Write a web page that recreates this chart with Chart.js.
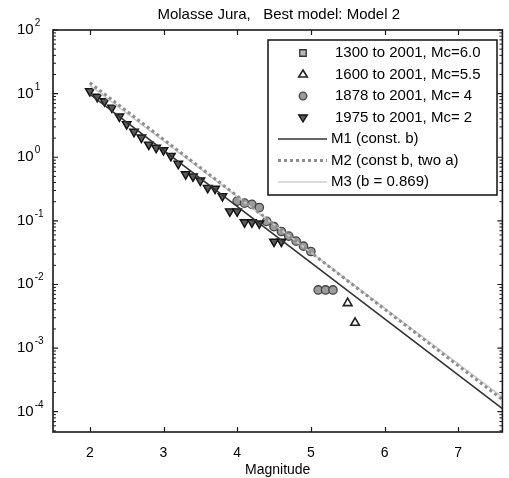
<!DOCTYPE html>
<html><head><meta charset="utf-8">
<script src="https://cdn.jsdelivr.net/npm/chart.js@4.4.1/dist/chart.umd.min.js"></script>
<style>html,body{margin:0;padding:0;background:#fff;}#wrap{width:509px;height:478px;position:relative;}canvas{display:block;}</style>
</head><body><div id="wrap"><canvas id="c" width="509" height="478" style="width:509px;height:478px"></canvas></div>
<script>
// ---- data ----
const titleText = 'Molasse Jura,   Best model: Model 2';
const xAxisTitle = 'Magnitude';
const xTicks = [2, 3, 4, 5, 6, 7];
const yTickExponents = [-4, -3, -2, -1, 0, 1, 2];
const yMinorMultipliers = [2, 3, 4, 5, 6, 7, 8, 9];
const legendLabels = ['1300 to 2001, Mc=6.0', '1600 to 2001, Mc=5.5', '1878 to 2001, Mc= 4', '1975 to 2001, Mc= 2',
  'M1 (const. b)', 'M2 (const b, two a)', 'M3 (b = 0.869)'];

const mag1300 = [];
const rate1300 = [];
const mag1600 = [5.5, 5.6];
const rate1600 = [0.0051, 0.0025];
const mag1878 = [4.0, 4.1, 4.2, 4.3, 4.4, 4.5, 4.6, 4.7, 4.8, 4.9, 5.0, 5.1, 5.2, 5.3];
const rate1878 = [0.204, 0.19, 0.182, 0.162, 0.098, 0.081, 0.068, 0.0575, 0.048, 0.040, 0.033, 0.0082, 0.0082, 0.0082];
const mag1975 = [2.0, 2.1, 2.2, 2.3, 2.4, 2.5, 2.6, 2.7, 2.8, 2.9, 3.0, 3.1, 3.2, 3.3, 3.4, 3.5, 3.6, 3.7, 3.8, 3.9, 4.0, 4.1, 4.2, 4.3, 4.5, 4.6];
const rate1975 = [10.96, 8.91, 7.59, 6.03, 4.37, 3.31, 2.51, 2.04, 1.58, 1.41, 1.29, 1.05, 0.79, 0.54, 0.50, 0.43, 0.33, 0.32, 0.245, 0.141, 0.141, 0.095, 0.095, 0.091, 0.047, 0.047];
const lineMag = [2.0, 7.6];
const rateM1 = [9.8, 1.12e-4];
const rateM2 = [14.8, 1.55e-4];
const rateM3 = [13.5, 1.7e-4];

const FONT = "'Liberation Sans', Arial, Helvetica, sans-serif";
const pts = (xs, ys) => xs.map((x, i) => ({x: x, y: ys[i]}));

const styles = [
  {pointStyle: 'rect', radius: 3.6, rotation: 0, bg: '#b8b8b8', border: '#333', bw: 1.3},
  {pointStyle: 'triangle', radius: 5, rotation: 0, bg: '#ffffff', border: '#222', bw: 1.6},
  {pointStyle: 'circle', radius: 4.2, rotation: 0, bg: '#9b9b9b', border: '#444', bw: 1.3},
  {pointStyle: 'triangle', radius: 5, rotation: 180, bg: '#5a5a5a', border: '#111', bw: 1.4}
];
const lineStyles = [
  {color: '#333333', width: 1.6, dash: []},
  {color: '#8e8e8e', width: 3, dash: [3, 3]},
  {color: '#cfcfcf', width: 1.6, dash: []}
];

function scatterDs(i, xs, ys, order) {
  const s = styles[i];
  return {label: legendLabels[i], data: pts(xs, ys), showLine: false, pointStyle: s.pointStyle,
    pointRadius: s.radius, pointRotation: s.rotation, pointBackgroundColor: s.bg, pointBorderColor: s.border,
    pointBorderWidth: s.bw, order: order};
}
function lineDs(i, ys, order) {
  const s = lineStyles[i];
  return {label: legendLabels[4 + i], data: pts(lineMag, ys), showLine: true, pointRadius: 0,
    borderColor: s.color, borderWidth: s.width, borderDash: s.dash, fill: false, order: order};
}

function drawMarker(ctx, s, x, y) {
  ctx.save();
  ctx.fillStyle = s.bg; ctx.strokeStyle = s.border; ctx.lineWidth = s.bw;
  ctx.beginPath();
  if (s.pointStyle === 'rect') {
    const h = s.radius * 0.9; ctx.rect(x - h, y - h, 2 * h, 2 * h);
  } else if (s.pointStyle === 'circle') {
    ctx.arc(x, y, s.radius * 0.9, 0, Math.PI * 2);
  } else {
    const r = s.radius * 0.9, dir = s.rotation === 180 ? -1 : 1;
    ctx.moveTo(x, y - dir * r);
    ctx.lineTo(x + r * 0.866 * 1.1, y + dir * r * 0.55);
    ctx.lineTo(x - r * 0.866 * 1.1, y + dir * r * 0.55);
    ctx.closePath();
  }
  ctx.fill(); ctx.stroke();
  ctx.restore();
}

const decor = {
  id: 'decor',
  afterDraw(chart) {
    const ctx = chart.ctx, a = chart.chartArea, xs = chart.scales.x, ys = chart.scales.y;
    ctx.save();
    ctx.strokeStyle = '#1a1a1a'; ctx.lineWidth = 1.6;
    ctx.strokeRect(a.left, a.top, a.right - a.left, a.bottom - a.top);
    ctx.lineWidth = 1.2;
    xTicks.forEach(v => {
      const px = Math.round(xs.getPixelForValue(v)) + 0.5;
      ctx.beginPath(); ctx.moveTo(px, a.bottom); ctx.lineTo(px, a.bottom - 5);
      ctx.moveTo(px, a.top); ctx.lineTo(px, a.top + 5); ctx.stroke();
    });
    const yMin = ys.min, yMax = ys.max;
    yTickExponents.forEach(e => {
      const py = ys.getPixelForValue(Math.pow(10, e));
      ctx.lineWidth = 1.2;
      ctx.beginPath(); ctx.moveTo(a.left, py); ctx.lineTo(a.left + 5, py);
      ctx.moveTo(a.right, py); ctx.lineTo(a.right - 5, py); ctx.stroke();
    });
    ctx.lineWidth = 1;
    for (let e = -5; e <= 1; e++) {
      yMinorMultipliers.forEach(m => {
        const v = m * Math.pow(10, e);
        if (v < yMin || v > yMax) return;
        const py = ys.getPixelForValue(v);
        ctx.beginPath(); ctx.moveTo(a.left, py); ctx.lineTo(a.left + 3, py);
        ctx.moveTo(a.right, py); ctx.lineTo(a.right - 3, py); ctx.stroke();
      });
    }
    ctx.fillStyle = '#000'; ctx.textAlign = 'left'; ctx.textBaseline = 'alphabetic';
    yTickExponents.forEach(e => {
      const py = ys.getPixelForValue(Math.pow(10, e));
      ctx.font = '15px ' + FONT;
      ctx.fillText('10', 17, py + 4);
      const w = ctx.measureText('10').width;
      ctx.font = '10px ' + FONT;
      ctx.fillText(String(e), 17 + w + 1, py - 4);
    });
    ctx.font = '15px ' + FONT; ctx.textAlign = 'center'; ctx.textBaseline = 'middle';
    ctx.fillText(titleText, (a.left + a.right) / 2 + 1, 15);
    const lx = 268, ly = 40, lw = 229, lh = 155, row0 = 53, dy = 21.5;
    ctx.fillStyle = '#fff'; ctx.fillRect(lx, ly, lw, lh);
    ctx.strokeStyle = '#111'; ctx.lineWidth = 1.5; ctx.strokeRect(lx, ly, lw, lh);
    ctx.font = '15px ' + FONT; ctx.textAlign = 'left'; ctx.textBaseline = 'middle'; ctx.fillStyle = '#000';
    legendLabels.forEach((t, i) => {
      const y = row0 + i * dy;
      if (i < 4) {
        drawMarker(ctx, styles[i], 303, y);
        ctx.fillStyle = '#000';
        ctx.fillText(t, 335, y);
      } else {
        const s = lineStyles[i - 4];
        ctx.save(); ctx.strokeStyle = s.color; ctx.lineWidth = s.width; ctx.setLineDash(s.dash);
        ctx.beginPath(); ctx.moveTo(278, y); ctx.lineTo(327, y); ctx.stroke(); ctx.restore();
        ctx.fillText(t, 331, y);
      }
    });
    ctx.restore();
  }
};

new Chart(document.getElementById('c'), {
  type: 'scatter',
  data: {datasets: [
    lineDs(0, rateM1, 0),
    lineDs(1, rateM2, 1),
    lineDs(2, rateM3, 2),
    scatterDs(3, mag1975, rate1975, 3),
    scatterDs(2, mag1878, rate1878, 4),
    scatterDs(1, mag1600, rate1600, 5),
    scatterDs(0, mag1300, rate1300, 6)
  ]},
  options: {
    responsive: false, maintainAspectRatio: false, animation: false, devicePixelRatio: 1,
    layout: {padding: {top: 30, right: 4, left: 0, bottom: 0}},
    plugins: {legend: {display: false}, tooltip: {enabled: false}, title: {display: false}},
    scales: {
      x: {type: 'linear', min: 1.5, max: 7.6,
        grid: {display: false, drawTicks: false}, border: {display: false},
        ticks: {color: '#000', font: {family: FONT, size: 14}, padding: 13, maxRotation: 0},
        afterBuildTicks: s => { s.ticks = xTicks.map(v => ({value: v})); },
        afterFit: s => { s.height = 46; },
        title: {display: true, text: xAxisTitle, color: '#000', font: {family: FONT, size: 14}, padding: {top: 0, bottom: -1}}
      },
      y: {type: 'logarithmic', min: 4.8e-5, max: 100,
        grid: {display: false, drawTicks: false}, border: {display: false},
        ticks: {display: false},
        afterFit: s => { s.width = 53; }
      }
    }
  },
  plugins: [decor]
});
</script>
</body></html>
